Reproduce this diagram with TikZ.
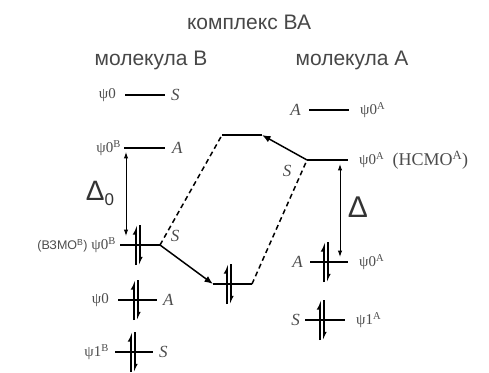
\documentclass[tikz,border=0pt]{standalone}
\usepackage{fontspec}
\setmainfont{Liberation Serif}
\newfontfamily\headfont{Liberation Sans}
\usetikzlibrary{arrows.meta,calc,positioning}
\tikzset{
  level/.style={line width=2.3pt},
  transfer/.style={line width=1.5pt, -{Latex[length=3mm,width=2.4mm]}},
  mixing/.style={line width=1.5pt, dash pattern=on 5pt off 3.5pt},
  gap/.style={line width=0.9pt, {Latex[length=2.2mm,width=1.5mm]}-{Latex[length=2.2mm,width=1.5mm]}},
  head/.style={font=\headfont\fontsize{21}{24}\selectfont, text=black!72},
  orb/.style={font=\fontsize{15}{17}\selectfont, text=black!70, inner sep=1pt},
  sym/.style={font=\fontsize{17}{19}\selectfont\itshape, text=black!70, inner sep=1pt},
  spin/.style={line width=2pt},
  spinup/.style={spin, -{Latex[left,length=2.6mm,width=2.6mm]}},
  spindown/.style={spin, -{Latex[left,length=2.2mm,width=2.2mm]}}
}
% orbital level: name, x left, x right, y
\newcommand{\orbital}[4]{%
  \coordinate (#1-w) at (#2,#4);
  \coordinate (#1-e) at (#3,#4);
  \draw[level] (#1-w) -- (#1-e);
}
% electron pair on a level: name, x, y
\newcommand{\epair}[3]{%
  \coordinate (#1-u0) at (#2-1.8,#3+20);
  \coordinate (#1-u1) at (#2-1.8,#3-20);
  \coordinate (#1-d0) at (#2+1.8,#3-20);
  \coordinate (#1-d1) at (#2+1.8,#3+20);
  \draw[spinup] (#1-u0) -- (#1-u1);
  \draw[spindown] (#1-d0) -- (#1-d1);
}

\begin{document}
\begin{tikzpicture}[x=1pt,y=-1pt]
\path[use as bounding box] (0,0) rectangle (489,372);

\node[head] (title) at (249,22) {комплекс ВА};
\node[head] (molB) at (151,60) {молекула В};
\node[head] (molA) at (352,60) {молекула А};

% molecule B
\orbital{b3}{125}{165}{95}
\node[orb, left=8pt of b3-w] (b3n) {ψ0};
\node[sym, right=5pt of b3-e] (b3s) {S};

\orbital{b2}{124}{165}{148}
\node[orb, left=2pt of b2-w] (b2n) {ψ0\textsuperscript{B}};
\node[sym, right=6pt of b2-e] (b2s) {A};

\orbital{b1}{120}{160}{245}
\epair{b1p}{138}{245}
\node[orb, left=3pt of b1-w] (b1n) {{\headfont\fontsize{12.5}{14}\selectfont(ВЗМО\textsuperscript{B})} ψ0\textsuperscript{B}};
\node[sym] (b1s) at (175,236) {S};

\orbital{b0a}{118}{157}{300}
\epair{b0ap}{136}{300}
\node[orb, left=8pt of b0a-w] (b0an) {ψ0};
\node[sym, right=5pt of b0a-e] (b0as) {A};

\orbital{b0s}{115}{153}{352}
\epair{b0sp}{133}{352}
\node[orb, left=5pt of b0s-w] (b0sn) {ψ1\textsuperscript{B}};
\node[sym, right=5pt of b0s-e] (b0ss) {S};

\coordinate (d0top) at (126,152);
\coordinate (d0bot) at (126,236);
\draw[gap] (d0bot) -- (d0top);
\node[font=\headfont\fontsize{28}{30}\selectfont, text=black!80, inner sep=0pt] (d0) at (100,193) {Δ\raisebox{-5pt}{\fontsize{17}{17}\selectfont 0}};

% complex BA
\orbital{c1}{222}{262}{135}
\orbital{c0}{213}{252}{284}
\epair{c0p}{229}{284}

% molecule A
\orbital{a3}{309}{349}{110}
\node[sym, left=7pt of a3-w] (a3s) {A};
\node[orb, right=10pt of a3-e] (a3n) {ψ0\textsuperscript{A}};

\orbital{a2}{307}{348}{160}
\node[orb, right=10pt of a2-e] (a2n) {ψ0\textsuperscript{A}};
\node[orb, font=\fontsize{18}{20}\selectfont, right=6pt of a2n] (a2h) {(НСМО\textsuperscript{A})};
\node[sym] (a2s) at (287,171) {S};

\orbital{a1}{310}{348}{262}
\epair{a1p}{326}{262}
\node[sym, left=6pt of a1-w] (a1s) {A};
\node[orb, right=10pt of a1-e] (a1n) {ψ0\textsuperscript{A}};

\orbital{a0}{305}{345}{320}
\epair{a0p}{322}{320}
\node[sym, left=4pt of a0-w] (a0s) {S};
\node[orb, right=10pt of a0-e] (a0n) {ψ1\textsuperscript{A}};

\coordinate (dtop) at (340,164);
\coordinate (dbot) at (340,257);
\draw[gap] (dtop) -- (dbot);
\node[font=\headfont\fontsize{30}{32}\selectfont, text=black!80, inner sep=0pt] (d) at (358,207) {Δ};

% interaction
\draw[mixing] (b1-e) -- (c1-w);
\draw[mixing] (c0-e) -- (a2-w);
\draw[transfer] (b1-e) -- (c0-w);
\draw[transfer] (a2-w) -- (c1-e);
\end{tikzpicture}
\end{document}
